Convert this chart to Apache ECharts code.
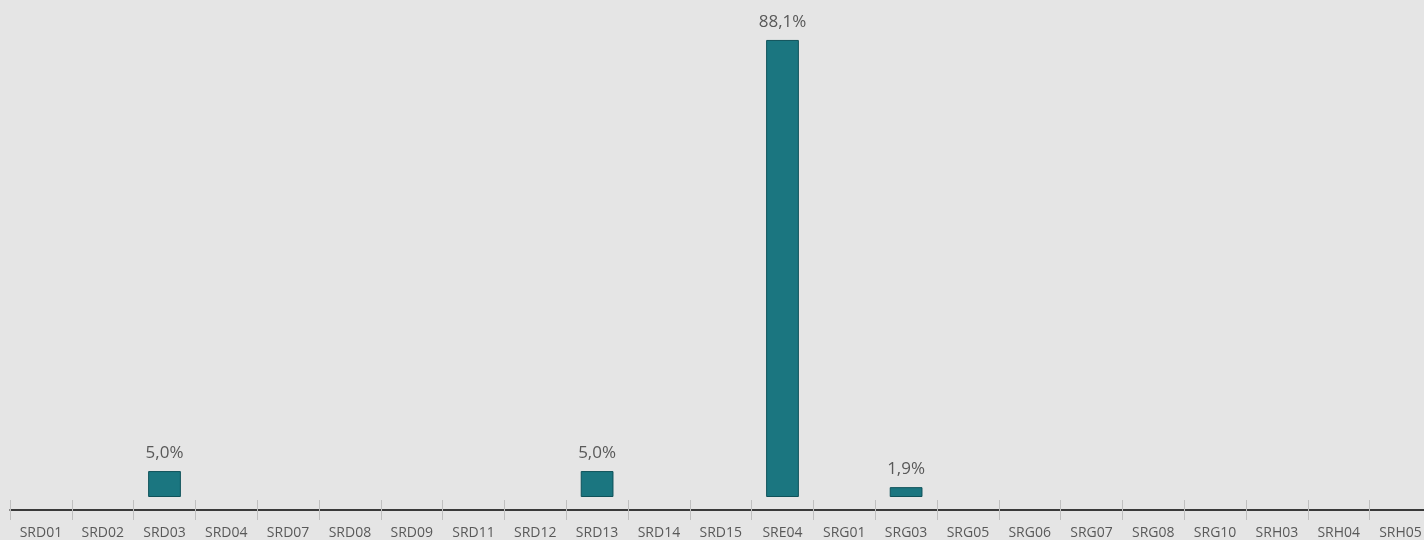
<!DOCTYPE html>
<html>
<head>
<meta charset="utf-8">
<script src="https://cdn.jsdelivr.net/npm/echarts@6/dist/echarts.min.js"></script>
<style>
html,body{margin:0;padding:0;background:#e5e5e5;overflow:hidden;width:1424px;height:540px;}
#c{width:1432px;height:540px;}
</style>
</head>
<body>
<div id="c"></div>
<script>
const categories = ['SRD01','SRD02','SRD03','SRD04','SRD07','SRD08','SRD09','SRD11','SRD12','SRD13','SRD14','SRD15','SRE04','SRG01','SRG03','SRG05','SRG06','SRG07','SRG08','SRG10','SRH03','SRH04','SRH05'];
const values = [0,0,5.0,0,0,0,0,0,0,5.0,0,0,88.1,0,1.9,0,0,0,0,0,0,0,0];

const chart = echarts.init(document.getElementById('c'), null, {renderer:'canvas'});
chart.setOption({
  backgroundColor: '#e5e5e5',
  animation: false,
  grid: {left: 10, right: 0.6, top: 0, bottom: 42, containLabel: false},
  xAxis: [{
    type: 'category',
    data: categories,
    offset: 13,
    axisLine: {show: true, onZero: false, lineStyle: {color: '#000000', width: 1.5}},
    axisTick: {show: true, inside: false, length: 10, lineStyle: {color: '#bfbfbf', width: 1}},
    axisLabel: {color: '#595959', fontSize: 14, fontFamily: 'Open Sans', margin: 16, interval: 0},
    splitLine: {show: false}
  }, {
    type: 'category',
    data: categories,
    position: 'bottom',
    offset: 13,
    axisLine: {show: false, onZero: false},
    axisTick: {show: true, inside: true, length: 10, lineStyle: {color: '#bfbfbf', width: 1}},
    axisLabel: {show: false},
    splitLine: {show: false}
  }],
  yAxis: {type: 'value', min: 0, max: 95.8, show: false, splitLine: {show: false}},
  series: [{
    type: 'bar',
    xAxisIndex: 0,
    data: values.map(v => v === 0 ? '-' : v),
    barWidth: '53%',
    itemStyle: {color: '#1b7680', borderColor: '#0f525a', borderWidth: 1},
    label: {
      show: true, position: 'top', distance: 9,
      color: '#595959', fontSize: 17, fontFamily: 'Open Sans',
      formatter: p => (typeof p.value === 'number' ? p.value.toFixed(1).replace('.', ',') + '%' : '')
    }
  }]
});
</script>
</body>
</html>
